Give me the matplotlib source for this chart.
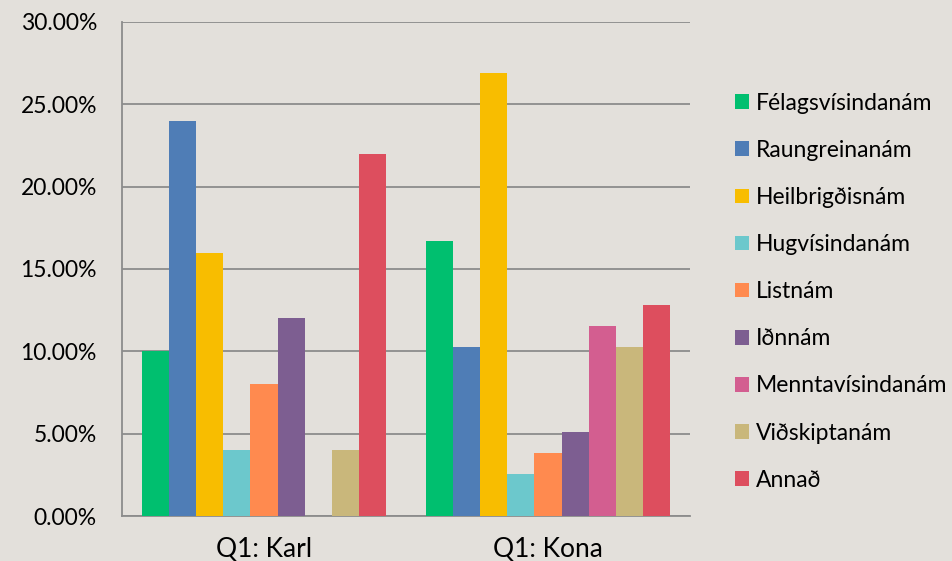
import matplotlib.pyplot as plt
import numpy as np

plt.rcParams['font.family'] = ['Lato', 'DejaVu Sans']

hopar = ['Q1: Karl', 'Q1: Kona']
flokkar = ['Félagsvísindanám', 'Raungreinanám', 'Heilbrigðisnám', 'Hugvísindanám',
           'Listnám', 'Iðnnám', 'Menntavísindanám', 'Viðskiptanám', 'Annað']
karl = [10.0, 24.0, 16.0, 4.0, 8.0, 12.0, 0.0, 4.0, 22.0]
kona = [16.67, 10.26, 26.92, 2.56, 3.85, 5.13, 11.54, 10.26, 12.82]
litir = ['#00bf6f', '#4f7db6', '#f8bd00', '#6cc8cc', '#ff8a4f',
         '#7d5e91', '#d35e90', '#c9b77b', '#dd4e5e']

fig = plt.figure(figsize=(9.53, 5.61), dpi=100)
fig.patch.set_facecolor('#e3e0db')
ax = fig.add_axes([0.128, 0.080, 0.596, 0.881])
ax.set_facecolor('none')

x = np.arange(len(hopar))
w = 0.86 / len(flokkar)
for i, nafn in enumerate(flokkar):
    gildi = [karl[i], kona[i]]
    ax.bar(x - 0.43 + w * (i + 0.5), gildi, w, color=litir[i], label=nafn,
           edgecolor='none', zorder=3)

ax.set_xlim(-0.5, 1.5)
ax.set_ylim(0, 30)
ax.set_yticks(np.arange(0, 31, 5))
ax.set_yticklabels([f'{v:.2f}%' for v in np.arange(0, 31, 5)])
ax.set_xticks(x)
ax.set_xticklabels(hopar)
ax.grid(axis='y', color='#8c8c8c', linewidth=1.3, zorder=0)
for s in ['top', 'right']:
    ax.spines[s].set_visible(False)
ax.spines['left'].set_color('#8c8c8c')
ax.spines['bottom'].set_color('#8c8c8c')
ax.spines['left'].set_linewidth(1.3)
ax.spines['bottom'].set_linewidth(1.3)
ax.tick_params(axis='y', length=0, labelsize=16.5, pad=18)
ax.tick_params(axis='x', length=0, labelsize=19, pad=15)

leg = fig.legend(loc='center left', bbox_to_anchor=(0.750, 0.480), frameon=False,
                 fontsize=16.5, handlelength=0.6, handleheight=0.6,
                 handletextpad=0.3, labelspacing=1.14)

fig.savefig('out.png', dpi=100, facecolor=fig.get_facecolor())
